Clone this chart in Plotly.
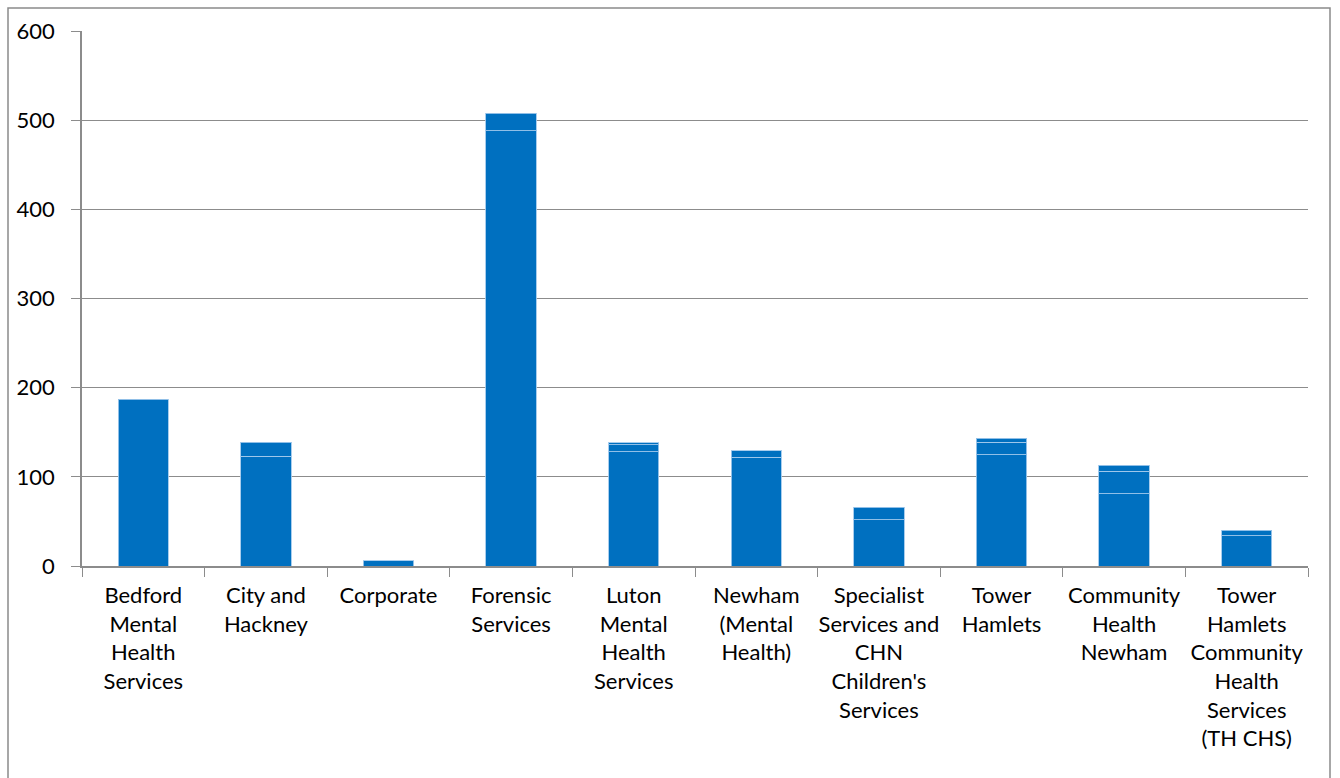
import plotly.graph_objects as go

# Directorates shown along the x axis
categories = [
    "Bedford<br>Mental<br>Health<br>Services",
    "City and<br>Hackney",
    "Corporate",
    "Forensic<br>Services",
    "Luton<br>Mental<br>Health<br>Services",
    "Newham<br>(Mental<br>Health)",
    "Specialist<br>Services and<br>CHN<br>Children's<br>Services",
    "Tower<br>Hamlets",
    "Community<br>Health<br>Newham",
    "Tower<br>Hamlets<br>Community<br>Health<br>Services<br>(TH CHS)",
]

# Stacked components per directorate (None = no segment)
segment_a = [187, 123, 6, 488, 128, 122, 52, 125, 81, 34]
segment_b = [None, 15, None, 20, 8, 7, 14, 14, 25, 6]
segment_c = [None, 1, None, None, 2, None, None, 4, 7, None]

y_ticks = [0, 100, 200, 300, 400, 500, 600]

BLUE = "#0070C0"
GRID = "#8c8c8c"
FONT = "Lato, 'Open Sans', sans-serif"

fig = go.Figure()
for seg in (segment_a, segment_b, segment_c):
    fig.add_trace(go.Bar(
        x=categories, y=seg,
        marker=dict(color=BLUE, line=dict(color="rgba(160,200,235,0.9)", width=1)),
        showlegend=False,
    ))

W, H = 1340, 778
L, R, T, B = 82, 32, 31, 212
pw, ph = W - L - R, H - T - B


def px_x(x):
    return (x - L) / pw


def px_y(y):
    return (H - B - y) / ph


fig.update_layout(
    width=W, height=H,
    barmode="stack",
    bargap=0.59,
    margin=dict(l=L, r=R, t=T, b=B, autoexpand=False),
    paper_bgcolor="white",
    plot_bgcolor="white",
    font=dict(family=FONT, size=22, color="#000"),
    xaxis=dict(
        showgrid=False,
        showline=True, linecolor=GRID, linewidth=1.5,
        ticks="outside", tickson="boundaries", ticklen=9, tickcolor=GRID,
        tickfont=dict(size=22),
        tickangle=0,
        automargin=False,
        ticklabelstandoff=9,
    ),
    yaxis=dict(
        range=[0, 600],
        tickvals=y_ticks,
        showgrid=True, gridcolor=GRID, gridwidth=1.2,
        showline=True, linecolor=GRID, linewidth=1.5,
        ticks="outside", ticklen=9, tickcolor=GRID,
        tickfont=dict(size=22),
        ticklabelstandoff=12,
        automargin=False,
        zeroline=False,
    ),
    shapes=[dict(
        type="rect", xref="paper", yref="paper",
        x0=px_x(8), x1=px_x(1330),
        y0=px_y(800), y1=px_y(8),
        line=dict(color="#8a8a8a", width=1.5),
        fillcolor="rgba(0,0,0,0)", layer="below",
    )],
)

fig.write_html("out.html")
